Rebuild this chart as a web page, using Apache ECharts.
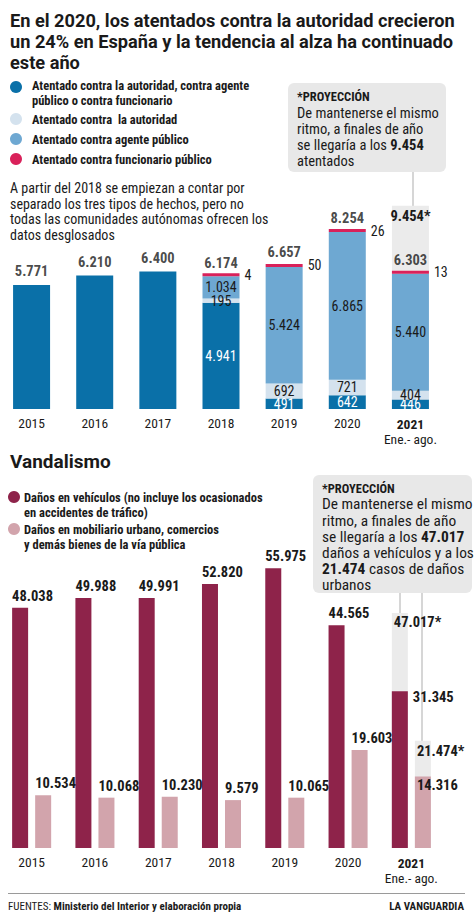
<!DOCTYPE html>
<html><head><meta charset="utf-8">
<script src="https://cdn.jsdelivr.net/npm/echarts@6/dist/echarts.min.js"></script>
<style>html,body{margin:0;padding:0;background:#fff}#c{width:474px;height:915px}</style>
</head><body><div id="c"></div><script>
// ---- data ----
const years = ['2015', '2016', '2017', '2018', '2019', '2020', '2021'];
const totalAtentados = [5771, 6210, 6400, 6174, 6657, 8254, 6303];
const atentadoCombinado = [5771, 6210, 6400, 4941, 491, 642, 446];
const atentadoAutoridad = [null, null, null, 195, 692, 721, 404];
const atentadoAgente = [null, null, null, 1034, 5424, 6865, 5440];
const atentadoFuncionario = [null, null, null, 4, 50, 26, 13];
const proyeccionAtentados = [null, null, null, null, null, null, 9454];
const danosVehiculos = [48038, 49988, 49991, 52820, 55975, 44565, 31345];
const danosMobiliario = [10534, 10068, 10230, 9579, 10065, 19603, 14316];
const proyeccionVehiculos = [null, null, null, null, null, null, 47017];
const proyeccionMobiliario = [null, null, null, null, null, null, 21474];

// ---- style ----
const N = '"Roboto Condensed", "Noto Sans", sans-serif';
const H = 'Roboto, "Noto Sans", sans-serif';
const INK = '#1a1a1a';
const C = {dark: '#0a70a8', light: '#d4e2ee', mid: '#6ea8d2', red: '#d9215a',
           maroon: '#8e234a', pink: '#d2a4ac', proj: '#ebebeb', box: '#e8e8e8'};
const fmt = v => String(v).replace(/\B(?=(\d{3})+(?!\d))/g, '.');

function T(x, y, text, o) {
  return {type: 'text', x: x, y: y, z: 5, style: Object.assign({text: text, fill: INK, fontFamily: N,
    fontSize: 14, verticalAlign: 'middle', align: 'left'}, o || {})};
}
function dot(x, y, color) {
  return {type: 'circle', z: 5, shape: {cx: x, cy: y, r: 6}, style: {fill: color}};
}
const LB = {fontWeight: 'bold', fontSize: 12.5};
const TT = {fontFamily: H, fontWeight: 'bold', fontSize: 18.2};
const B1 = {fontSize: 14.5};
const B2 = {fontSize: 15.4};
const rb = s => ({b: {fontFamily: N, fontSize: s, fontWeight: 'bold', fill: INK}});
const graphic = [
  T(10, 20, 'En el 2020, los atentados contra la autoridad crecieron', TT),
  T(10, 41, 'un 24% en España y la tendencia al alza ha continuado', TT),
  T(10, 62, 'este año', TT),
  dot(16, 87, C.dark), T(32, 85, 'Atentado contra la autoridad, contra agente', LB),
  T(32, 100, 'público o contra funcionario', LB),
  dot(16, 119, C.light), T(32, 119, 'Atentado contra  la autoridad', LB),
  dot(16, 139, C.mid), T(32, 139, 'Atentado contra agente público', LB),
  dot(16, 159, C.red), T(32, 159, 'Atentado contra funcionario público', LB),
  T(10, 188, 'A partir del 2018 se empiezan a contar por'),
  T(10, 203.5, 'separado los tres tipos de hechos, pero no'),
  T(10, 219, 'todas las comunidades autónomas ofrecen los'),
  T(10, 234.5, 'datos desglosados'),
  {type: 'line', z: 0, shape: {x1: 413, y1: 170, x2: 413, y2: 207}, style: {stroke: '#d6d6d6', lineWidth: 2}},
  {type: 'rect', z: 1, shape: {x: 288, y: 83, width: 158, height: 89, r: 6}, style: {fill: C.box}},
  T(297, 96, '*PROYECCIÓN', {fontWeight: 'bold', fontSize: 12.5}),
  T(297, 113, 'De mantenerse el mismo', B1),
  T(297, 129, 'ritmo, a finales de año', B1),
  T(297, 145, 'se llegaría a los {b|9.454}', Object.assign({rich: rb(14.5)}, B1)),
  T(297, 161, 'atentados', B1),
  T(10, 461, 'Vandalismo', Object.assign({}, TT, {fontSize: 19})),
  dot(14, 497, C.maroon), T(24, 497, 'Daños en vehículos (no incluye los ocasionados', LB),
  T(24, 512.5, 'en accidentes de tráfico)', LB),
  dot(14, 529, C.pink), T(24, 529, 'Daños en mobiliario urbano, comercios', LB),
  T(24, 544.5, 'y demás bienes de la vía pública', LB),
  {type: 'line', z: 0, shape: {x1: 400, y1: 590, x2: 400, y2: 615}, style: {stroke: '#d6d6d6', lineWidth: 2}},
  {type: 'line', z: 0, shape: {x1: 422, y1: 590, x2: 422, y2: 742}, style: {stroke: '#d6d6d6', lineWidth: 2}},
  {type: 'rect', z: 1, shape: {x: 313, y: 475, width: 159, height: 118, r: 6}, style: {fill: C.box}},
  T(322, 488, '*PROYECCIÓN', {fontWeight: 'bold', fontSize: 12.5}),
  T(322, 504, 'De mantenerse el mismo', B2),
  T(322, 520.5, 'ritmo, a finales de año', B2),
  T(322, 537, 'se llegaría a los {b|47.017}', Object.assign({rich: rb(15.4)}, B2)),
  T(322, 553, 'daños a vehículos y a los', B2),
  T(322, 569, '{b|21.474} casos de daños', Object.assign({rich: rb(15.4)}, B2)),
  T(322, 585, 'urbanos', B2),
  {type: 'line', z: 0, shape: {x1: 8, y1: 893.5, x2: 465, y2: 893.5}, style: {stroke: '#9a9a9a', lineWidth: 1}},
  T(8, 906, 'FUENTES: {b|Ministerio del Interior y elaboración propia}', {fontSize: 11, rich: rb(11)}),
  T(464, 906, 'LA VANGUARDIA', {fontSize: 11, fontWeight: 'bold', align: 'right'})
];

const axisLabelRich = {
  n: {fontFamily: N, fontSize: 13.5, color: INK},
  b: {fontFamily: N, fontSize: 13.5, fontWeight: 'bold', color: INK, lineHeight: 15},
  s: {fontFamily: N, fontSize: 13.5, color: INK, lineHeight: 15}
};
const catAxis = (grid, show) => ({
  type: 'category', gridIndex: grid, data: years, show: show,
  axisLine: {show: false}, axisTick: {show: false},
  axisLabel: {margin: 7, interval: 0, formatter: v => v === '2021' ? '{b|2021}\n{s|Ene.- ago.}' : '{n|' + v + '}', rich: axisLabelRich}
});
const valAxis = (grid, max) => ({type: 'value', gridIndex: grid, min: 0, max: max, show: false, splitLine: {show: false}});

const inLabel = (color) => ({show: true, position: 'inside', color: color, fontFamily: N, fontSize: 14,
  formatter: p => p.value == null ? '' : fmt(p.value)});

const topAbove = {show: true, position: [0, -4], align: 'left', verticalAlign: 'bottom',
  fontFamily: N, fontSize: 14.5, fontWeight: 'bold', color: INK, formatter: p => fmt(p.value)};

const option = {
  animation: false,
  backgroundColor: '#fff',
  graphic: graphic,
  grid: [
    {left: -6, width: 448, top: 194, height: 215},
    {left: -5, width: 448, top: 548, height: 300}
  ],
  xAxis: [catAxis(0, true), catAxis(1, true), catAxis(1, false)],
  yAxis: [valAxis(0, 10000), valAxis(1, 60000)],
  series: [
    {type: 'bar', name: 'Proyección', xAxisIndex: 0, yAxisIndex: 0, data: proyeccionAtentados,
      barWidth: 37, barGap: '-100%', z: 1, itemStyle: {color: C.proj},
      label: {show: true, position: 'insideTop', distance: 3, fontFamily: N, fontSize: 14.5, fontWeight: 'bold', color: INK,
        formatter: p => p.value == null ? '' : fmt(p.value) + '*'}},
    {type: 'bar', name: 'Combinado', stack: 'a', xAxisIndex: 0, yAxisIndex: 0, data: atentadoCombinado,
      barWidth: 37, barGap: '-100%', itemStyle: {color: C.dark},
      label: Object.assign(inLabel('#fff'), {formatter: p => p.dataIndex > 2 ? fmt(p.value) : ''})},
    {type: 'bar', name: 'Autoridad', stack: 'a', xAxisIndex: 0, yAxisIndex: 0, data: atentadoAutoridad,
      barWidth: 37, barGap: '-100%', itemStyle: {color: C.light}, label: inLabel(INK)},
    {type: 'bar', name: 'Agente', stack: 'a', xAxisIndex: 0, yAxisIndex: 0, data: atentadoAgente,
      barWidth: 37, barGap: '-100%', itemStyle: {color: C.mid}, label: inLabel(INK)},
    {type: 'bar', name: 'Funcionario', stack: 'a', xAxisIndex: 0, yAxisIndex: 0, data: atentadoFuncionario,
      barWidth: 37, barGap: '-100%', barMinHeight: 3, itemStyle: {color: C.red},
      label: {show: true, position: 'right', distance: 5, fontFamily: N, fontSize: 14, color: INK,
        formatter: p => p.value == null ? '' : fmt(p.value)}},
    {type: 'scatter', name: 'Total', xAxisIndex: 0, yAxisIndex: 0, data: totalAtentados, symbolSize: 1,
      itemStyle: {color: 'rgba(0,0,0,0)'}, z: 6,
      label: {show: true, position: 'top', distance: 5, fontFamily: N, fontSize: 14.5, fontWeight: 'bold', color: INK,
        formatter: p => fmt(p.value)}},

    {type: 'bar', name: 'Proy. vehículos', xAxisIndex: 2, yAxisIndex: 1, data: proyeccionVehiculos,
      barWidth: 16, barGap: '44%', z: 1, itemStyle: {color: C.proj},
      label: {show: true, position: [2, 10], align: 'left', verticalAlign: 'middle', fontFamily: N, fontSize: 14.5,
        fontWeight: 'bold', color: INK, formatter: p => p.value == null ? '' : fmt(p.value) + '*'}},
    {type: 'bar', name: 'Proy. mobiliario', xAxisIndex: 2, yAxisIndex: 1, data: proyeccionMobiliario,
      barWidth: 16, barGap: '44%', z: 1, itemStyle: {color: C.proj},
      label: {show: true, position: [2, 11], align: 'left', verticalAlign: 'middle', fontFamily: N, fontSize: 14.5,
        fontWeight: 'bold', color: INK, formatter: p => p.value == null ? '' : fmt(p.value) + '*'}},
    {type: 'bar', name: 'Daños en vehículos', xAxisIndex: 1, yAxisIndex: 1,
      data: danosVehiculos.map((v, i) => i === 6 ? {value: v, label: {position: [21, 6], verticalAlign: 'middle'}} : v),
      barWidth: 16, barGap: '44%', itemStyle: {color: C.maroon}, label: topAbove},
    {type: 'bar', name: 'Daños en mobiliario', xAxisIndex: 1, yAxisIndex: 1,
      data: danosMobiliario.map((v, i) => i === 6 ? {value: v, label: {position: [2, 9], verticalAlign: 'middle'}} : v),
      barWidth: 16, barGap: '44%', itemStyle: {color: C.pink}, label: topAbove}
  ]
};
const chart = echarts.init(document.getElementById('c'), null, {renderer: 'svg'});
chart.setOption(option);
</script></body></html>
